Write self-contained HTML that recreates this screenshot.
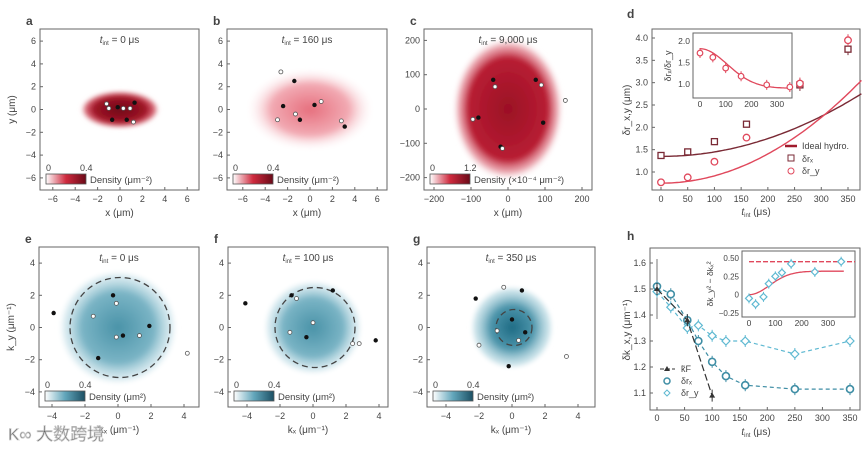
<!DOCTYPE html>
<html><head><meta charset="utf-8">
<style>
body{margin:0;background:#fff;}
svg{display:block;font-family:"Liberation Sans","Noto Sans CJK SC",sans-serif;}
text{fill:#444;}
</style></head>
<body>
<svg id="fig" width="865" height="449" viewBox="0 0 865 449" xmlns="http://www.w3.org/2000/svg">
<defs>
<radialGradient id="redDark"><stop offset="0" stop-color="#6e0a18"/><stop offset="0.65" stop-color="#a01426"/><stop offset="0.88" stop-color="#cf3a4e" stop-opacity="0.7"/><stop offset="1" stop-color="#fff" stop-opacity="0"/></radialGradient>
<radialGradient id="redLight"><stop offset="0" stop-color="#e6707e"/><stop offset="0.6" stop-color="#f2aab3"/><stop offset="1" stop-color="#fff" stop-opacity="0"/></radialGradient>
<radialGradient id="redC"><stop offset="0" stop-color="#9b1025"/><stop offset="0.7" stop-color="#b81d33"/><stop offset="0.88" stop-color="#e07583" stop-opacity="0.6"/><stop offset="1" stop-color="#fff" stop-opacity="0"/></radialGradient>
<radialGradient id="teal"><stop offset="0" stop-color="#4a93a8"/><stop offset="0.6" stop-color="#7ab4c5"/><stop offset="0.9" stop-color="#c8e2ea" stop-opacity="0.6"/><stop offset="1" stop-color="#fff" stop-opacity="0"/></radialGradient>
<radialGradient id="tealG"><stop offset="0" stop-color="#1f6b84"/><stop offset="0.5" stop-color="#4b94aa"/><stop offset="0.9" stop-color="#b5d8e2" stop-opacity="0.6"/><stop offset="1" stop-color="#fff" stop-opacity="0"/></radialGradient>
<linearGradient id="cbRed"><stop offset="0" stop-color="#fff"/><stop offset="0.5" stop-color="#cf2a3e"/><stop offset="1" stop-color="#6a0a18"/></linearGradient>
<linearGradient id="cbTeal"><stop offset="0" stop-color="#fff"/><stop offset="0.5" stop-color="#62a6bb"/><stop offset="1" stop-color="#1b4f63"/></linearGradient>
<filter id="blur"><feGaussianBlur stdDeviation="2"/></filter>
</defs>
<g id="root"></g>
</svg>
<script>
// Panel d data
const dTimes = [0, 50, 100, 160, 260, 350];
const dRx = [1.37, 1.45, 1.68, 2.07, 2.95, 3.75];
const dRy = [0.77, 0.88, 1.23, 1.77, 2.98, 3.95];
const dFitX = [1.35, 2.75];
const dFitY = [0.75, 3.05];
const dInsetRatio = [1.72, 1.62, 1.37, 1.18, 0.98, 0.93];
const dInsetFit = [1.82, 0.9];
const dYTicks = ["1.0","1.5","2.0","2.5","3.0","3.5","4.0"];
const dXTicks = ["0","50","100","150","200","250","300","350"];
// Panel h data
const hTimesX = [0, 25, 55, 75, 100, 125, 160, 250, 350];
const hKx = [1.51, 1.48, 1.38, 1.30, 1.22, 1.165, 1.13, 1.115, 1.115];
const hKy = [1.49, 1.43, 1.35, 1.36, 1.32, 1.30, 1.30, 1.25, 1.30];
const hTimesF = [0, 55, 100];
const hKF = [1.50, 1.38, 1.09];
const hInsetT = [0, 25, 55, 75, 100, 125, 160, 250, 350];
const hInsetV = [-0.05, -0.13, -0.03, 0.15, 0.25, 0.30, 0.42, 0.31, 0.45];
const hInsetDash = 0.45;
const hInsetFitMax = 0.32;
const hYTicks = ["1.1","1.2","1.3","1.4","1.5","1.6"];

const NS = "http://www.w3.org/2000/svg";
const root = document.getElementById("root");
function el(tag, attrs, parent, txt){
  const e = document.createElementNS(NS, tag);
  for (const k in attrs) e.setAttribute(k, attrs[k]);
  if (txt !== undefined) e.textContent = txt;
  (parent || root).appendChild(e);
  return e;
}
function lin(d0,d1,r0,r1){return v => r0 + (v-d0)/(d1-d0)*(r1-r0);}

const panels = [
 {id:"a", x0:40,x1:199,y0:29,y1:190, cx:120,cy:109.5, sx:11.2, sy:11.4, ticksX:[-6,-4,-2,0,2,4,6], ticksY:[-6,-4,-2,0,2,4,6], title:"0 μs", cloud:{rx:40,ry:19,fill:"url(#redDark)"}, cb:"url(#cbRed)", cbMax:"0.4", cbLbl:"Density (μm⁻²)", xl:"x (μm)", yl:"y (μm)", circle:0,
  black:[[-1.0,0.1],[-0.2,0.2],[1.3,0.6],[-0.7,-0.9],[0.6,-0.9]], white:[[-1.2,0.5],[-1.0,0.1],[0.3,0.1],[0.9,0.1],[1.2,-1.1]]},
 {id:"b", x0:227,x1:387,y0:29,y1:190, cx:310,cy:109.5, sx:11.2, sy:11.4, ticksX:[-6,-4,-2,0,2,4,6], ticksY:[-6,-4,-2,0,2,4,6], title:"160 μs", cloud:{rx:65,ry:42,fill:"url(#redLight)"}, cb:"url(#cbRed)", cbMax:"0.4", cbLbl:"Density (μm⁻²)", xl:"x (μm)", yl:"", circle:0,
  black:[[-1.4,2.5],[-2.4,0.3],[0.4,0.4],[-0.9,-0.9],[3.1,-1.5]], white:[[-2.6,3.3],[-1.3,-0.4],[1.0,0.7],[2.8,-1.0],[-2.9,-0.9]]},
 {id:"c", x0:424,x1:592,y0:29,y1:190, cx:508,cy:109, sx:0.37, sy:0.343, ticksX:[-200,-100,0,100,200], ticksY:[-200,-100,0,100,200], title:"9,000 μs", cloud:{rx:56,ry:72,fill:"url(#redC)"}, cb:"url(#cbRed)", cbMax:"1.2", cbLbl:"Density (×10⁻⁴ μm⁻²)", xl:"x (μm)", yl:"", circle:0,
  black:[[-40,85],[75,85],[-80,-25],[-20,-110],[95,-40]], white:[[-35,65],[90,70],[-95,-30],[-15,-115],[155,25]]},
 {id:"e", x0:39,x1:199,y0:247,y1:407, cx:118,cy:327.5, sx:16.5, sy:16.1, ticksX:[-4,-2,0,2,4], ticksY:[-4,-2,0,2,4], title:"0 μs", cloud:{rx:60,ry:58,fill:"url(#teal)"}, cb:"url(#cbTeal)", cbMax:"0.4", cbLbl:"Density (μm²)", xl:"kₓ (μm⁻¹)", yl:"k_y (μm⁻¹)", circle:50,
  black:[[-3.9,0.9],[-0.3,2.0],[0.3,-0.5],[1.9,0.1],[-1.2,-1.9]], white:[[-1.5,0.7],[-0.1,1.5],[-0.1,-0.6],[1.3,-0.5],[4.2,-1.6]]},
 {id:"f", x0:228,x1:388,y0:247,y1:407, cx:313,cy:327.5, sx:16.5, sy:16.1, ticksX:[-4,-2,0,2,4], ticksY:[-4,-2,0,2,4], title:"100 μs", cloud:{rx:50,ry:48,fill:"url(#teal)"}, cb:"url(#cbTeal)", cbMax:"0.4", cbLbl:"Density (μm²)", xl:"kₓ (μm⁻¹)", yl:"", circle:40,
  black:[[-4.1,1.5],[-1.3,2.0],[1.2,2.3],[-0.4,-0.6],[3.8,-0.8]], white:[[-1.0,1.8],[-1.4,-0.3],[0.0,0.3],[2.4,-1.0],[2.8,-1.0]]},
 {id:"g", x0:427,x1:595,y0:247,y1:407, cx:512,cy:327.5, sx:16.5, sy:16.1, ticksX:[-4,-2,0,2,4], ticksY:[-4,-2,0,2,4], title:"350 μs", cloud:{rx:42,ry:42,fill:"url(#tealG)"}, cb:"url(#cbTeal)", cbMax:"0.4", cbLbl:"Density (μm²)", xl:"kₓ (μm⁻¹)", yl:"", circle:18,
  black:[[-2.2,1.8],[0.6,2.3],[0.0,0.5],[0.8,-0.3],[-0.2,-2.4]], white:[[-0.5,2.5],[-0.9,-0.2],[0.4,-0.8],[-2.0,-1.1],[3.3,-1.8]]}
];

panels.forEach(p=>{
  const g = el("g",{});
  
  
  const cp = el("clipPath",{id:"clip"+p.id},g);
  el("rect",{x:p.x0,y:p.y0,width:p.x1-p.x0,height:p.y1-p.y0},cp);
  const cl = el("ellipse",{cx:p.cx,cy:p.cy,rx:p.cloud.rx,ry:p.cloud.ry,fill:p.cloud.fill,filter:"url(#blur)","clip-path":"url(#clip"+p.id+")"},g);
  
  
  if(p.circle){
    const c = el("circle",{cx:p.cx+2,cy:p.cy,r:p.circle,fill:"none",stroke:"#444","stroke-width":1.3,"stroke-dasharray":"6,4"},g);
    
    
  }
  p.black.forEach(([x,y])=>{const d=el("circle",{cx:p.cx+x*p.sx,cy:p.cy-y*p.sy,r:2.2,fill:"#111"},g);
    
    });
  p.white.forEach(([x,y])=>{const d=el("circle",{cx:p.cx+x*p.sx,cy:p.cy-y*p.sy,r:2,fill:"#fff",stroke:"#555","stroke-width":0.8},g);
    
    });
  el("rect",{x:p.x0,y:p.y0,width:p.x1-p.x0,height:p.y1-p.y0,fill:"none",stroke:"#666","stroke-width":1},g);
  p.ticksX.forEach(t=>{const x=p.cx+t*p.sx;
    el("line",{x1:x,x2:x,y1:p.y1,y2:p.y1-3,stroke:"#666"},g);
    el("text",{x:x,y:p.y1+12,"font-size":9,"text-anchor":"middle"},g,t<0?"−"+(-t):String(t));});
  p.ticksY.forEach(t=>{const y=p.cy-t*p.sy;
    el("line",{x1:p.x0,x2:p.x0+3,y1:y,y2:y,stroke:"#666"},g);
    el("text",{x:p.x0-4,y:y+3,"font-size":9,"text-anchor":"end"},g,t<0?"−"+(-t):String(t));});
  const lab = el("text",{x:p.x0-14,y:p.y0-4,"font-size":12,"font-weight":"bold",fill:"#111"},g,p.id);
  
  
  const tt = el("text",{x:(p.x0+p.x1)/2,y:p.y0+14,"font-size":10,"text-anchor":"middle",fill:"#333"},g);
  tt.innerHTML = '<tspan font-style="italic">t</tspan><tspan font-size="6" dy="2">int</tspan><tspan dy="-2"> = '+p.title+'</tspan>';
  
  
  const cby = p.y1-16;
  el("rect",{x:p.x0+6,y:cby,width:40,height:10,fill:p.cb,stroke:"#555","stroke-width":0.8},g);
  el("text",{x:p.x0+6,y:cby-3,"font-size":9},g,"0");
  el("text",{x:p.x0+40,y:cby-3,"font-size":9},g,p.cbMax);
  el("text",{x:p.x0+50,y:cby+9,"font-size":9.5},g,p.cbLbl);
  const xl = el("text",{x:(p.x0+p.x1)/2,y:p.y1+26,"font-size":10,"text-anchor":"middle"},g,p.xl);
  
  
  if(p.yl){const yl=el("text",{x:0,y:0,"font-size":10,"text-anchor":"middle",transform:`translate(${p.x0-25},${(p.y0+p.y1)/2}) rotate(-90)`},g,p.yl);
    
    }
});

function frame(g,x0,y0,x1,y1){el("rect",{x:x0,y:y0,width:x1-x0,height:y1-y0,fill:"none",stroke:"#666","stroke-width":1},g);}
function errbar(g,x,y,len,col){el("line",{x1:x,x2:x,y1:y-len,y2:y+len,stroke:col,"stroke-width":1},g);}

// ---------- Panel d ----------
(function(){
  const g = el("g",{});
  
  
  const X = lin(0,350,661,848), Y = lin(1.0,4.0,172,38);
  frame(g,652,29,860,190);
  dYTicks.forEach(t=>{const y=Y(+t);el("line",{x1:652,x2:655,y1:y,y2:y,stroke:"#666"},g);el("text",{x:648,y:y+3,"font-size":9,"text-anchor":"end"},g,t);});
  dXTicks.forEach(t=>{const x=X(+t);el("line",{x1:x,x2:x,y1:190,y2:187,stroke:"#666"},g);el("text",{x:x,y:202,"font-size":9,"text-anchor":"middle"},g,t);});
  function fit(a,b,col,name){let d="";for(let t=0;t<=375;t+=5){const v=a+(b-a)*Math.pow(t/375,2);d+=(t?"L":"M")+X(t).toFixed(1)+","+Y(v).toFixed(1);}
    const p=el("path",{d:d,fill:"none",stroke:col,"stroke-width":1.4},g);
    
    }
  fit(dFitX[0],dFitX[1],"#7a2a35","fit-line-x");
  fit(dFitY[0],dFitY[1],"#e0485c","fit-line-y");
  dTimes.forEach((t,i)=>{const x=X(t),y=Y(dRx[i]);errbar(g,x,y,t>200?6:3,"#7a2a35");
    const m=el("rect",{x:x-3,y:y-3,width:6,height:6,fill:"#fff",stroke:"#7a2a35","stroke-width":1.3},g);
    
    });
  dTimes.forEach((t,i)=>{const x=X(t),y=Y(dRy[i]);errbar(g,x,y,t>200?6:3,"#e0485c");
    const m=el("circle",{cx:x,cy:y,r:3.3,fill:"#fff",stroke:"#e0485c","stroke-width":1.3},g);
    
    });
  el("line",{x1:785,x2:797,y1:146,y2:146,stroke:"#a01a2c","stroke-width":2.5},g);
  el("text",{x:802,y:149,"font-size":9},g,"Ideal hydro.");
  el("rect",{x:788,y:155,width:6,height:6,fill:"#fff",stroke:"#7a2a35"},g);
  el("text",{x:802,y:162,"font-size":9},g,"δrₓ");
  el("circle",{cx:791,cy:171,r:3,fill:"#fff",stroke:"#e0485c"},g);
  el("text",{x:802,y:174,"font-size":9},g,"δr_y");
  el("text",{x:627,y:18,"font-size":12,"font-weight":"bold",fill:"#111"},g,"d");
  const yl=el("text",{x:0,y:0,"font-size":10,"text-anchor":"middle",transform:"translate(630,110) rotate(-90)"},g,"δr_x,y (μm)");
  
  
  const xl=el("text",{x:756,y:215,"font-size":10,"text-anchor":"middle"},g);
  xl.innerHTML='<tspan font-style="italic">t</tspan><tspan font-size="6" dy="2">int</tspan><tspan dy="-2"> (μs)</tspan>';
  
  
  const IX=lin(0,300,700,777), IY=lin(1.0,2.0,84,41);
  el("rect",{x:693,y:33,width:99,height:65,fill:"#fff",stroke:"#666"},g);
  ["1.0","1.5","2.0"].forEach(t=>{el("text",{x:690,y:IY(+t)+3,"font-size":8.5,"text-anchor":"end"},g,t);});
  [0,100,200,300].forEach(t=>{el("text",{x:IX(t),y:107,"font-size":8.5,"text-anchor":"middle"},g,String(t));});
  el("text",{x:0,y:0,"font-size":9,"text-anchor":"middle",transform:"translate(671,66) rotate(-90)"},g,"δrₓ/δr_y");
  let d="";for(let t=0;t<=360;t+=5){const v=dInsetFit[1]+(dInsetFit[0]-dInsetFit[1])*Math.exp(-Math.pow(t/150,2));d+=(t?"L":"M")+IX(t).toFixed(1)+","+IY(v).toFixed(1);}
  el("path",{d:d,fill:"none",stroke:"#e0485c","stroke-width":1.3},g);
  dTimes.forEach((t,i)=>{const x=IX(t),y=IY(dInsetRatio[i]);errbar(g,x,y,5,"#e0485c");
    const m=el("circle",{cx:x,cy:y,r:2.8,fill:"#fff",stroke:"#e0485c","stroke-width":1.2},g);
    
    });
})();

// ---------- Panel h ----------
(function(){
  const g = el("g",{});
  
  
  const X = lin(0,350,657,850), Y = lin(1.1,1.6,393,263);
  frame(g,650,248,860,410);
  hYTicks.forEach(t=>{const y=Y(+t);el("line",{x1:650,x2:653,y1:y,y2:y,stroke:"#666"},g);el("text",{x:646,y:y+3,"font-size":9,"text-anchor":"end"},g,t);});
  dXTicks.forEach(t=>{const x=X(+t);el("line",{x1:x,x2:x,y1:410,y2:407,stroke:"#666"},g);el("text",{x:x,y:421,"font-size":9,"text-anchor":"middle"},g,t);});
  const cp=el("clipPath",{id:"cliph"},g);
  el("rect",{x:650,y:248,width:210,height:162},cp);
  errbar(g,X(0),Y(1.5),30,"#777");
  function series(ts,vs,col,shape,name,dash){
    const pts=ts.map((t,i)=>X(t).toFixed(1)+","+Y(vs[i]).toFixed(1)).join(" ");
    const pl=el("polyline",{points:pts,fill:"none",stroke:col,"stroke-width":1.2,"stroke-dasharray":dash,"clip-path":"url(#cliph)"},g);
    
    
    ts.forEach((t,i)=>{const x=X(t),y=Y(vs[i]);if(y>410)return;errbar(g,x,y,6,col);
      let m;
      if(shape==="tri") m=el("path",{d:`M${x},${y-3}L${x+3},${y+2}L${x-3},${y+2}Z`,fill:col},g);
      else if(shape==="oct") m=el("circle",{cx:x,cy:y,r:3.5,fill:"#fff",stroke:col,"stroke-width":1.6},g);
      else m=el("path",{d:`M${x},${y-4}L${x+4},${y}L${x},${y+4}L${x-4},${y}Z`,fill:"#fff",stroke:col,"stroke-width":1.2},g);
      
      });
  }
  series(hTimesX,hKy,"#5fb9d2","dia","dky","4,3");
  series(hTimesX,hKx,"#3f8ea5","oct","dkx","4,3");
  series(hTimesF,hKF,"#333","tri","kf","7,3");
  el("line",{x1:660,x2:675,y1:369,y2:369,stroke:"#333","stroke-dasharray":"4,2"},g);
  el("path",{d:"M667,366L670,371L664,371Z",fill:"#333"},g);
  el("text",{x:681,y:372,"font-size":9},g,"k̃F");
  el("circle",{cx:667,cy:381,r:3,fill:"#fff",stroke:"#3f8ea5","stroke-width":1.5},g);
  el("text",{x:681,y:384,"font-size":9},g,"δrₓ");
  el("path",{d:"M667,390L670,393L667,396L664,393Z",fill:"#fff",stroke:"#5fb9d2"},g);
  el("text",{x:681,y:396,"font-size":9},g,"δr_y");
  el("text",{x:627,y:240,"font-size":12,"font-weight":"bold",fill:"#111"},g,"h");
  const yl=el("text",{x:0,y:0,"font-size":10,"text-anchor":"middle",transform:"translate(630,330) rotate(-90)"},g,"δk_x,y (μm⁻¹)");
  
  
  const xl=el("text",{x:756,y:435,"font-size":10,"text-anchor":"middle"},g);
  xl.innerHTML='<tspan font-style="italic">t</tspan><tspan font-size="6" dy="2">int</tspan><tspan dy="-2"> (μs)</tspan>';
  
  
  const IX=lin(0,300,749,828), IY=lin(-0.25,0.5,313,258);
  el("rect",{x:742,y:251,width:113,height:66,fill:"#fff",stroke:"#666"},g);
  ["−0.25","0","0.25","0.50"].forEach((t,i)=>{el("text",{x:739,y:IY(-0.25+0.25*i)+3,"font-size":8,"text-anchor":"end"},g,t);});
  [0,100,200,300].forEach(t=>{el("text",{x:IX(t),y:326,"font-size":8.5,"text-anchor":"middle"},g,String(t));});
  el("text",{x:0,y:0,"font-size":8.5,"text-anchor":"middle",transform:"translate(713,284) rotate(-90)"},g,"δk_y² − δkₓ²");
  el("line",{x1:IX(0),x2:855,y1:IY(hInsetDash),y2:IY(hInsetDash),stroke:"#e0485c","stroke-width":1.4,"stroke-dasharray":"5,2"},g);
  let d="";for(let t=0;t<=360;t+=5){const v=hInsetFitMax*(1-Math.exp(-Math.pow(t/110,2)));d+=(t?"L":"M")+IX(t).toFixed(1)+","+IY(v).toFixed(1);}
  el("path",{d:d,fill:"none",stroke:"#e0485c","stroke-width":1.3},g);
  hInsetT.forEach((t,i)=>{const x=IX(t),y=IY(hInsetV[i]);errbar(g,x,y,5,"#5fb9d2");
    const m=el("path",{d:`M${x},${y-3.5}L${x+3.5},${y}L${x},${y+3.5}L${x-3.5},${y}Z`,fill:"#fff",stroke:"#5fb9d2","stroke-width":1.2},g);
    
    });
})();

const wm = el("text",{x:8,y:440,"font-size":17,fill:"#fff",stroke:"#ccc","stroke-width":0.8,opacity:0.9},root,"K∞ 大数跨境");


</script>
</body></html>
